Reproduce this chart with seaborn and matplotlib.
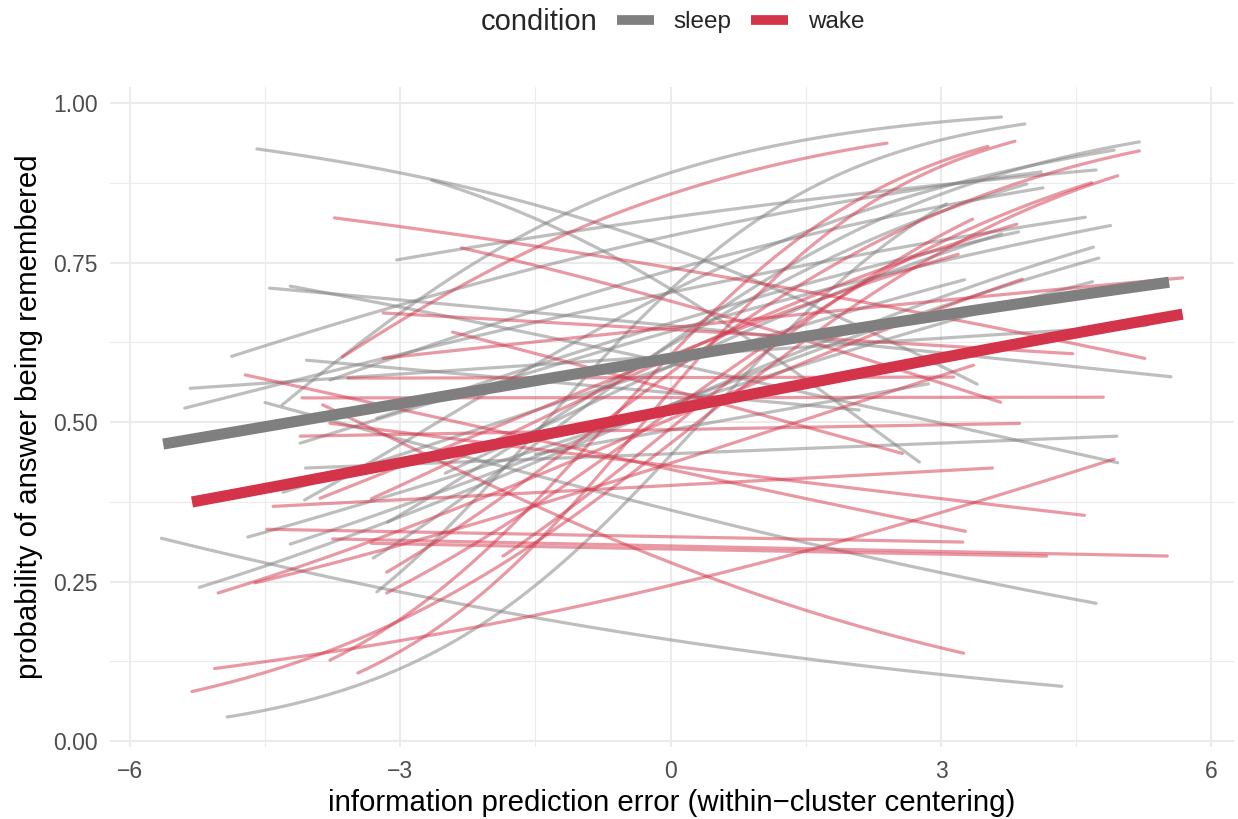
import numpy as np
import pandas as pd
import matplotlib
matplotlib.use("Agg")
import matplotlib.pyplot as plt
import seaborn as sns
from matplotlib.lines import Line2D

# ---- per-subject logistic fits (logit scale): intercept, slope, observed x-range ----
sleep_intercept = [1.225, 0.888, 0.184, -1.667, -0.566, 0.624, 0.374, -0.199, -0.208, 1.521,
                   2.099, 0.884, 1.336, 0.421, 0.862, 0.107, 0.096, 0.108, 0.870, 0.505,
                   0.492, 0.353, 0.585, 1.034, 0.642, 0.357, -0.049]
sleep_slope = [-0.290, -0.413, -0.0517, -0.160, -0.153, -0.0609, -0.127, 0.0224, 0.6145, 0.1318,
               0.462, 0.635, 0.1885, 0.0391, 0.1436, 0.2397, 0.1812, 0.2164, 0.3369, 0.4287,
               0.3636, 0.186, 0.1745, 0.2035, 0.1896, 0.272, 0.1014]
sleep_xmin = [-4.59, -2.65, -4.04, -5.65, -4.50, -4.45, -4.22, -4.05, -4.92, -3.04,
              -4.31, -3.26, -4.87, -5.33, -5.39, -5.23, -4.69, -4.22, -4.06, -3.30,
              -3.14, -4.30, -4.11, -3.78, -3.26, -2.50, -1.50]
sleep_xmax = [3.40, 2.76, 2.09, 4.34, 4.72, 5.55, 4.96, 4.95, 3.06, 4.72,
              3.67, 3.93, 4.11, 5.29, 4.60, 4.69, 4.68, 4.75, 4.92, 5.20,
              3.95, 3.26, 4.88, 4.13, 3.86, 3.67, 2.86]

wake_intercept = [1.055, 0.798, -0.299, 0.203, -0.047, -0.945, -0.276, -0.842, -0.819, -0.752,
                  -0.402, -1.129, 0.610, 0.597, 0.154, 0.020, -0.259, 0.281, 1.792, 0.198,
                  0.426, 0.312, -0.133, 0.070, -0.039, 0.410, 0.423]
wake_slope = [-0.1236, -0.184, -0.1265, -0.1557, 0.010, -0.2729, -0.071, -0.0127, -0.0137, -0.0119,
              0.0315, 0.1822, 0.0641, -0.0363, 0.0005, 0.242, 0.1843, 0.001, 0.3785, 0.6686,
              0.6227, 0.423, 0.4402, 0.4017, 0.4603, 0.271, 0.2338]
wake_xmin = [-3.73, -2.32, -4.72, -2.42, -4.11, -3.86, -3.78, -3.32, -3.75, -4.48,
             -4.41, -5.06, -3.19, -3.19, -4.09, -5.02, -4.61, -3.58, -3.64, -3.47,
             -3.78, -3.15, -5.31, -3.15, -1.86, -3.32, -3.89]
wake_xmax = [5.26, 3.66, 3.27, 2.57, 3.87, 3.25, 4.59, 4.17, 5.51, 3.24,
             3.57, 4.92, 5.68, 4.46, 4.80, 3.90, 3.36, 3.14, 2.40, 3.82,
             3.52, 5.20, 4.96, 4.67, 3.35, 3.84, 3.19]

# ---- population-level fits ----
pop_condition = ["sleep", "wake"]
pop_intercept = [0.406, 0.076]
pop_slope = [0.0966, 0.1106]
pop_xmin = [-5.63, -5.31]
pop_xmax = [5.53, 5.68]

conditions = ["sleep", "wake"]
colors = {"sleep": "#7F7F7F", "wake": "#D33449"}


def curves(cond, intercepts, slopes, xmins, xmaxs, prefix):
    rows = []
    for i, (a, b, x0, x1) in enumerate(zip(intercepts, slopes, xmins, xmaxs)):
        xs = np.linspace(x0, x1, 80)
        ps = 1.0 / (1.0 + np.exp(-(a + b * xs)))
        rows.append(pd.DataFrame({"x": xs, "p": ps, "condition": cond,
                                  "subject": f"{prefix}{i}"}))
    return rows


subj = pd.concat(curves("sleep", sleep_intercept, sleep_slope, sleep_xmin, sleep_xmax, "s")
                 + curves("wake", wake_intercept, wake_slope, wake_xmin, wake_xmax, "w"),
                 ignore_index=True)
pop = pd.concat([curves(c, [a], [b], [x0], [x1], "p" + c)[0]
                 for c, a, b, x0, x1 in zip(pop_condition, pop_intercept, pop_slope,
                                            pop_xmin, pop_xmax)], ignore_index=True)

sns.set_style("white")
plt.rcParams["font.family"] = ["Liberation Sans", "DejaVu Sans"]

fig = plt.figure(figsize=(12.38, 8.19), dpi=100)
ax = fig.add_axes([110 / 1238, 1 - 747 / 819, (1234 - 110) / 1238, (747 - 87) / 819])

sns.lineplot(data=subj, x="x", y="p", hue="condition", hue_order=conditions,
             units="subject", estimator=None, palette=colors, alpha=0.5,
             linewidth=2.3, legend=False, ax=ax, sort=False)
sns.lineplot(data=pop, x="x", y="p", hue="condition", hue_order=conditions,
             units="subject", estimator=None, palette=colors, linewidth=8,
             legend=False, ax=ax, sort=False, solid_capstyle="butt")

ax.set_xlim(-6.22, 6.25)
ax.set_ylim(-0.009, 1.025)
ax.set_xticks([-6, -3, 0, 3, 6])
ax.set_xticklabels(["\u22126", "\u22123", "0", "3", "6"])
ax.set_xticks([-4.5, -1.5, 1.5, 4.5], minor=True)
ax.set_yticks([0, 0.25, 0.5, 0.75, 1.0])
ax.set_yticklabels(["0.00", "0.25", "0.50", "0.75", "1.00"])
ax.set_yticks([0.125, 0.375, 0.625, 0.875], minor=True)
ax.grid(which="major", color="#EBEBEB", linewidth=1.5)
ax.grid(which="minor", color="#EBEBEB", linewidth=0.8)
ax.set_axisbelow(True)
for s in ax.spines.values():
    s.set_visible(False)
ax.tick_params(which="both", length=0, labelsize=16.5, labelcolor="#4D4D4D", pad=9)

ax.set_xlabel("information prediction error (within\u2212cluster centering)", fontsize=21.2,
              color="black", labelpad=5)
ax.set_ylabel("probability of answer being remembered", fontsize=21.2, color="black",
              labelpad=7)

fig.text(597 / 1238, 1 - 22 / 819, "condition", ha="right", va="center", fontsize=21)
handles = [Line2D([0], [0], color=colors[c], linewidth=7, solid_capstyle="butt")
           for c in conditions]
fig.legend(handles, conditions, loc="center left", bbox_to_anchor=(617 / 1238, 1 - 22 / 819),
           ncol=2, frameon=False, fontsize=17.5, handlelength=1.52, handletextpad=0.82,
           columnspacing=0.78, borderaxespad=0, borderpad=0)

fig.savefig("out.png", dpi=100)
